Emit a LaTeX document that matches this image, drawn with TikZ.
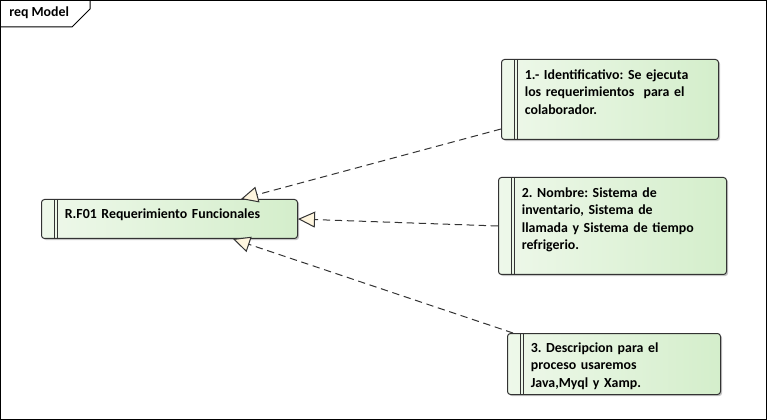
\documentclass[tikz,border=0pt]{standalone}
\usepackage{fontspec}
\setmainfont{Carlito}
\frenchspacing
\usetikzlibrary{arrows.meta,shadows}

\definecolor{reqleft}{HTML}{EEF8EA}
\definecolor{reqright}{HTML}{D4EECB}
\definecolor{reqedge}{HTML}{333333}
\definecolor{tipfill}{HTML}{FFF6DF}

\tikzset{
  requirement/.style={draw=reqedge, line width=0.75pt, rounded corners=2.25pt,
    left color=reqleft, right color=reqright, anchor=north west,
    align=left, inner xsep=17.5pt, inner ysep=0pt,
    font=\fontsize{10.4}{13}\selectfont\bfseries,
    drop shadow={shadow xshift=1.2pt, shadow yshift=-1.2pt, fill=black!45, opacity=0.5},
    path picture={
      \draw[reqedge, line width=0.75pt, sharp corners]
        ([xshift=10pt]path picture bounding box.north west) -- ([xshift=10pt]path picture bounding box.south west)
        ([xshift=12pt]path picture bounding box.north west) -- ([xshift=12pt]path picture bounding box.south west);
    }},
  realize/.style={draw=reqedge, line width=0.75pt, dash pattern=on 5.5pt off 3.5pt,
    -{Triangle[length=12.75pt, width=12pt, fill=tipfill]}},
}

\begin{document}
\begin{tikzpicture}[x=0.75pt, y=-0.75pt]
\useasboundingbox (0,0) rectangle (767,420);

% frame and tab
\draw[line width=0.75pt] (0.5,0.5) rectangle (766.5,419.5);
\draw[line width=0.75pt] (0.5,27) -- (72,27) -- (90,9) -- (90,0.5);
\node[anchor=base west, inner sep=0pt, font=\fontsize{10.4}{13}\selectfont\bfseries] (title) at (9,17) {req Model};

\node[requirement, text width=157pt, text height=14.25pt, text depth=15pt] (rf01) at (41,199)
  {R.F01 Requerimiento Funcionales};

\node[requirement, text width=127.75pt, text height=15pt, text depth=45pt] (req-1) at (501,59)
  {1.- Identificativo: Se ejecuta\\los requerimientos\ \ para el\\colaborador.};
\node[requirement, text width=136pt, text height=15pt, text depth=57.75pt] (req-2) at (498,177)
  {2. Nombre: Sistema de\\inventario, Sistema de\\llamada y Sistema de tiempo\\refrigerio.};
\node[requirement, text width=124.75pt, text height=14.25pt, text depth=31.5pt] (req-3) at (507,333)
  {3. Descripcion para el\\proceso usaremos\\Java,Myql y Xamp.};

\draw[realize] ([yshift=8.25pt]req-1.south west) -- ([xshift=-42.75pt]rf01.north east);
\draw[realize] (req-2.west) -- (rf01.east);
\draw[realize] ([xshift=4.5pt]req-3.north west) -- ([xshift=-48.75pt]rf01.south east);
\end{tikzpicture}
\end{document}
